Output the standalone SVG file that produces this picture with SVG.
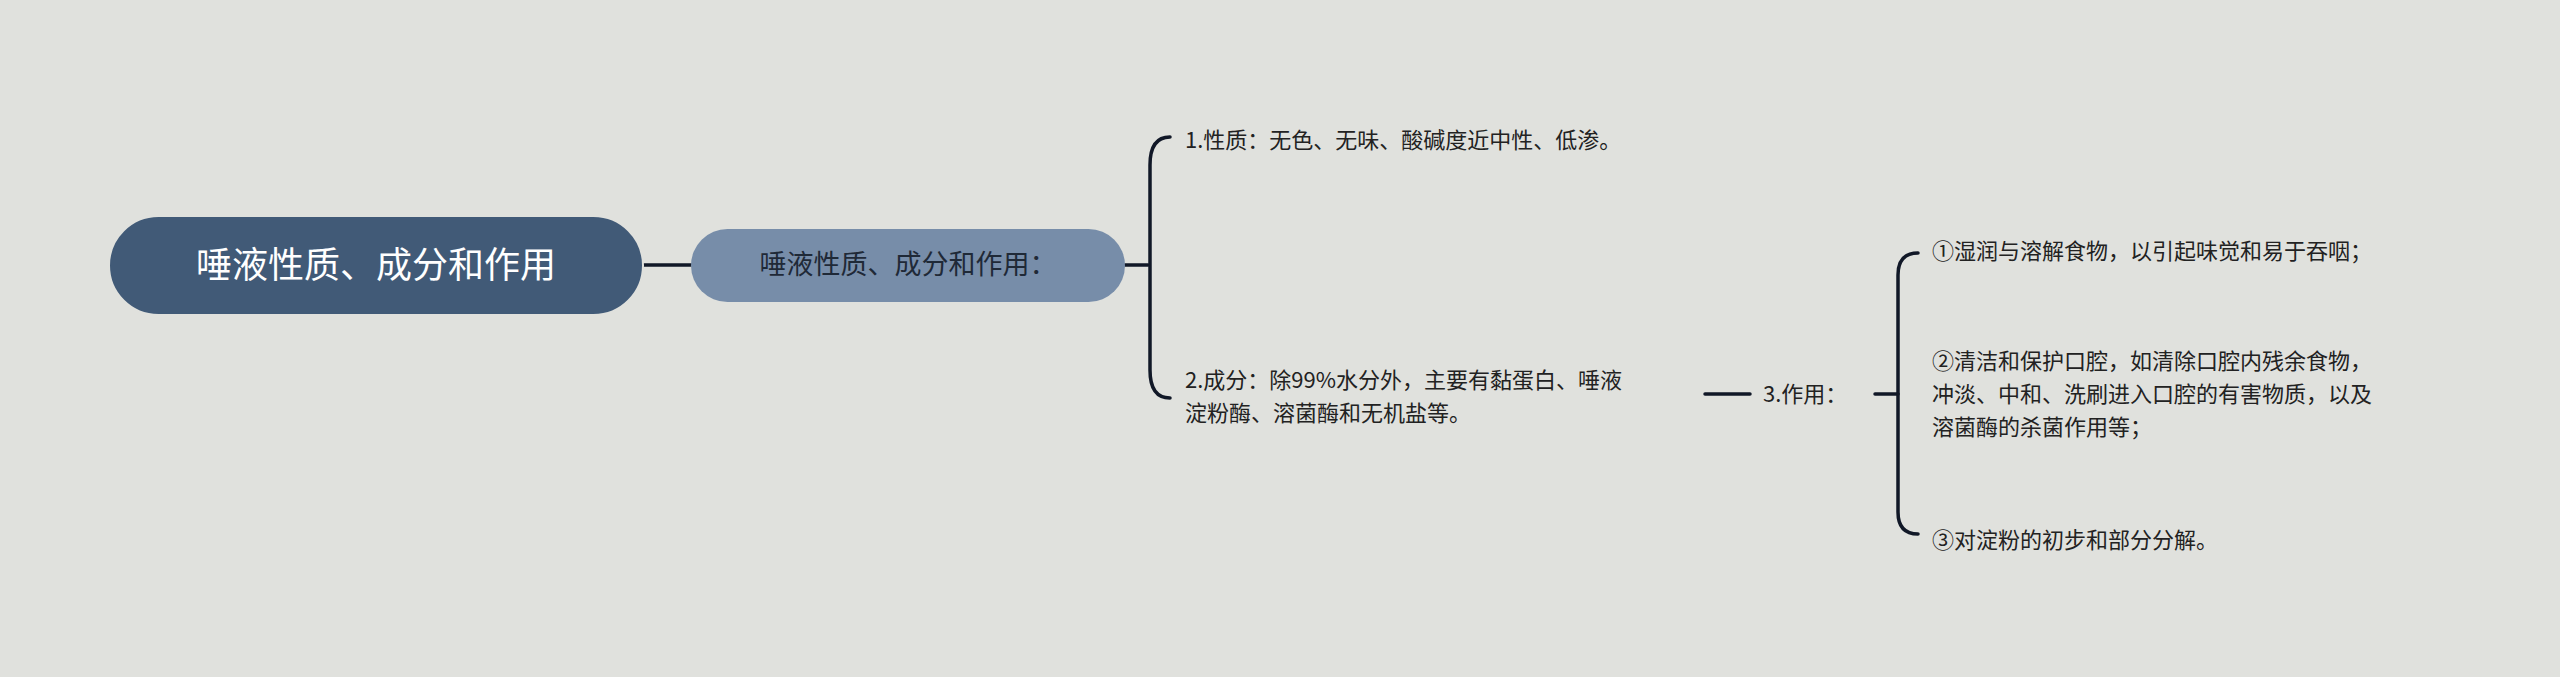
<svg xmlns="http://www.w3.org/2000/svg" width="2560" height="677" viewBox="0 0 2560 677">
<style>
text{font-family:"Noto Sans CJK SC","Liberation Sans",sans-serif;}
.leaf{font-size:22px;fill:#222;}
.ln{fill:none;stroke:#111827;stroke-width:3.5;stroke-linecap:round;}
</style>
<rect width="2560" height="677" fill="#e0e1dd"/>
<g id="connectors">
<path class="ln" d="M643 265H691"/>
<path class="ln" d="M1125 265H1148"/>
<path class="ln" d="M1170 137Q1150 137 1150 165V370Q1150 398 1170 398"/>
<path class="ln" d="M1705 394H1750"/>
<path class="ln" d="M1875 394H1898"/>
<path class="ln" d="M1918 253Q1898 253 1898 275V512Q1898 534 1918 534"/>
</g>
<g id="root">
<rect x="109" y="216" width="534" height="99" rx="49.5" fill="#415a77" stroke="#e0e1dd" stroke-width="2"/>
<text x="376" y="278" text-anchor="middle" font-size="36" fill="#fff">唾液性质、成分和作用</text>
</g>
<g id="sub">
<rect x="691" y="229" width="434" height="73" rx="36.5" fill="#778da9"/>
<text x="908" y="274" text-anchor="middle" font-size="27" fill="#1f2937">唾液性质、成分和作用：</text>
</g>
<g id="n1"><text class="leaf" x="1185" y="148">1.性质：无色、无味、酸碱度近中性、低渗。</text></g>
<g id="n2"><text class="leaf" x="1185" y="388">2.成分：除99%水分外，主要有黏蛋白、唾液</text><text class="leaf" x="1185" y="421">淀粉酶、溶菌酶和无机盐等。</text></g>
<g id="n3"><text class="leaf" x="1763" y="402">3.作用：</text></g>
<g id="n3a"><text class="leaf" x="1932" y="259">①湿润与溶解食物，以引起味觉和易于吞咽；</text></g>
<g id="n3b"><text class="leaf" x="1932" y="369">②清洁和保护口腔，如清除口腔内残余食物，</text><text class="leaf" x="1932" y="402">冲淡、中和、洗刷进入口腔的有害物质，以及</text><text class="leaf" x="1932" y="435">溶菌酶的杀菌作用等；</text></g>
<g id="n3c"><text class="leaf" x="1932" y="548">③对淀粉的初步和部分分解。</text></g>
</svg>
